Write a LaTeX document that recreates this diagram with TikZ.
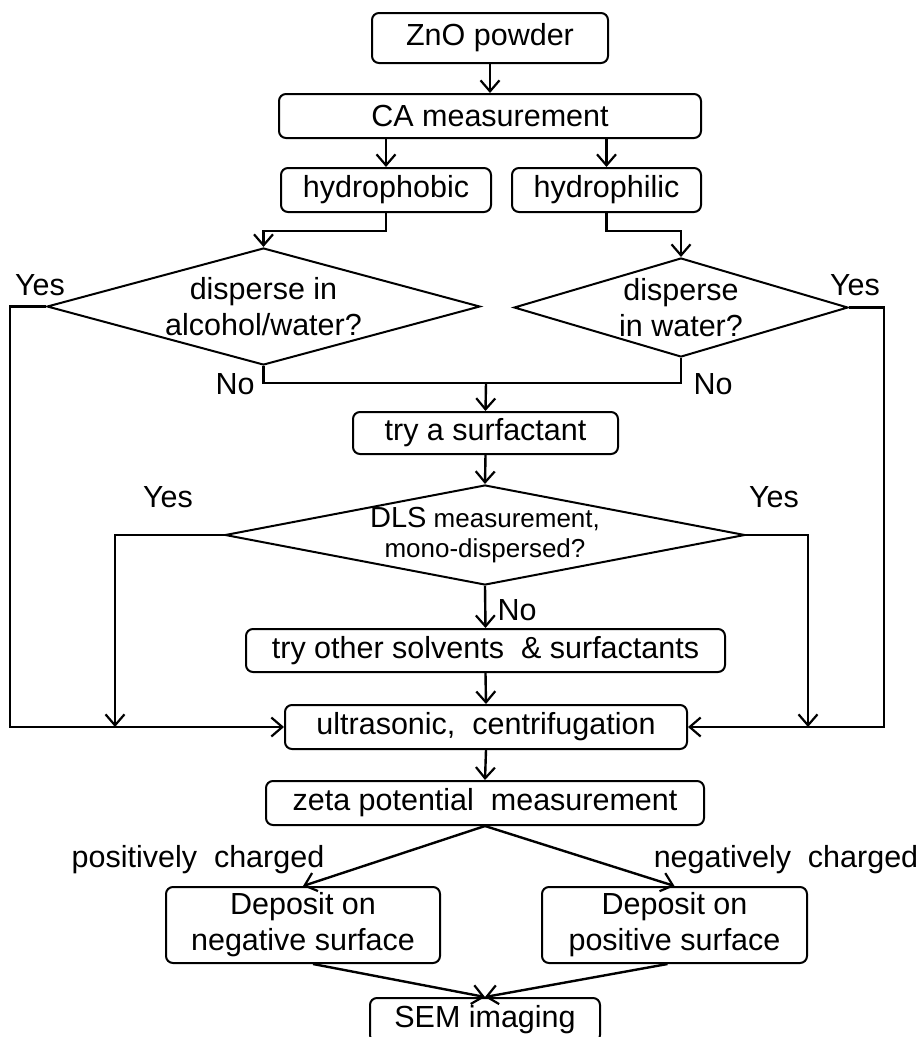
\documentclass[tikz,border=0pt]{standalone}
\usepackage{fontspec}
\setmainfont{Liberation Sans}
\usetikzlibrary{arrows.meta,shapes.geometric}
\begin{document}
\begin{tikzpicture}[x=1pt,y=-1pt,
  every node/.style={font=\fontsize{30.5}{36}\selectfont, inner sep=0pt},
  box/.style={draw, rounded corners=7pt, line width=2pt, align=center},
  dia/.style={draw, diamond, line width=2pt, align=center},
  conn/.style={line width=2.4pt},
  arr/.style={conn, -{Straight Barb[length=11pt,width=19pt,line width=2.2pt]}}]
\useasboundingbox (0,0) rectangle (918,1037);
\clip (0,0) rectangle (918,1037);

% boxes
\node[box, minimum width=236pt, minimum height=50pt] (zno) at (490,38) {ZnO powder};
\node[box, minimum width=422pt, minimum height=44pt] (ca) at (490,116) {CA measurement};
\node[box, minimum width=210pt, minimum height=44pt] (hphob) at (386,190) {hydrophobic};
\node[box, minimum width=189pt, minimum height=44pt] (hphil) at (606.5,190) {hydrophilic};
\node[dia, aspect=3.70, minimum width=433pt, minimum height=117pt] (ld) at (263.5,306.5) {disperse in\\alcohol/water?};
\node[dia, aspect=3.37, minimum width=334pt, minimum height=99pt] (rd) at (681,307.5) {disperse\\in water?};
\node[box, minimum width=265pt, minimum height=42pt] (surf) at (485.5,433) {try a surfactant};
\node[dia, aspect=5.2, minimum width=520pt, minimum height=100pt, font=\fontsize{26}{30}\selectfont] (dls) at (485,535) {{\fontsize{29}{30}\selectfont DLS} measurement,\\mono-dispersed?};
\node[box, minimum width=479pt, minimum height=43pt] (other) at (485.5,650.5) {try other solvents \ \& surfactants};
\node[box, minimum width=402pt, minimum height=44pt] (ultra) at (486,727) {ultrasonic, \ centrifugation};
\node[box, minimum width=438pt, minimum height=44pt] (zeta) at (485,803) {zeta potential \ measurement};
\node[box, minimum width=274pt, minimum height=76pt] (depL) at (303,925) {Deposit on\\negative surface};
\node[box, minimum width=265pt, minimum height=76pt] (depR) at (674.5,925) {Deposit on\\positive surface};
\node[box, minimum width=230pt, minimum height=44pt] (sem) at (485,1020) {SEM imaging};

% labels
\node (y1) at (40,285) {Yes};
\node (y2) at (855,285) {Yes};
\node (n1) at (235,384) {No};
\node (n2) at (713,384) {No};
\node (y3) at (168,497) {Yes};
\node (y4) at (774,497) {Yes};
\node (n3) at (517,610) {No};
\node (pc) at (198,860) {positively \ charged};
\node (nc) at (786,860) {negatively \ charged};

% coordinates
\coordinate (j) at (486,383);
\coordinate (lyx) at (10,0);
\coordinate (ryx) at (884,0);
\coordinate (dlx) at (115,0);
\coordinate (drx) at (808,0);

% connectors
\draw[arr] (zno.south) -- (ca.north);
\draw[arr] (hphob.north |- ca.south) -- (hphob.north);
\draw[arr] (hphil.north |- ca.south) -- (hphil.north);
\draw[arr] (hphob.south) -- ++(0,18) -| (ld.north);
\draw[arr] (hphil.south) -- ++(0,18) -| (rd.north);
\draw[conn] (ld.south) -- (ld.south |- j) -- (rd.south |- j) -- (rd.south);
\draw[arr] (j) -- (surf.north);
\draw[arr] (surf.south) -- (dls.north);
\draw[arr] (dls.south) -- (other.north);
\draw[arr] (other.south) -- (ultra.north);
\draw[arr] (ultra.south) -- (zeta.north);
\draw[arr] (ld.west) -- (ld.west -| lyx) -- (lyx |- ultra.west) -- (ultra.west);
\draw[arr] (rd.east) -- (rd.east -| ryx) -- (ryx |- ultra.east) -- (ultra.east);
\draw[arr] (dls.west) -- (dls.west -| dlx) -- (dlx |- ultra.west);
\draw[arr] (dls.east) -- (dls.east -| drx) -- (drx |- ultra.east);
\draw[arr] (zeta.south) -- (depL.north);
\draw[arr] (zeta.south) -- (depR.north);
\draw[arr] ([xshift=10pt]depL.south) -- (sem.north);
\draw[arr] ([xshift=-7pt]depR.south) -- (sem.north);
\end{tikzpicture}
\end{document}
